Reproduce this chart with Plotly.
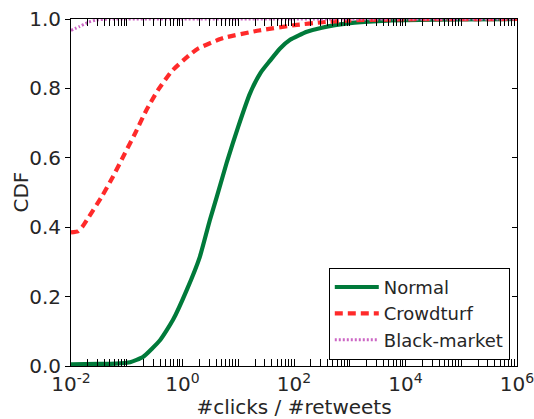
import plotly.graph_objects as go

# ratio of clicks to retweets (x) and cumulative fraction of accounts (y)
normal_x = [0.01, 0.0316, 0.0631, 0.115, 0.195, 0.398, 0.676, 1.20, 2.04, 3.09,
            4.17, 6.31, 10.0, 16.2, 25.1, 37.2, 56.2, 85.1, 170, 316, 1000, 3162,
            10000, 100000, 1000000]
normal_y = [0.005, 0.006, 0.007, 0.011, 0.026, 0.075, 0.133, 0.22, 0.314, 0.42,
            0.49, 0.59, 0.69, 0.785, 0.845, 0.88, 0.915, 0.94, 0.963, 0.975, 0.988,
            0.994, 0.997, 0.999, 1.0]

crowd_x = [0.01, 0.0132, 0.0158, 0.02, 0.0363, 0.0562, 0.0933, 0.141, 0.221, 0.363,
           0.646, 1.32, 1.91, 5.37, 21.9, 112, 295, 1000, 10000, 1000000]
crowd_y = [0.385, 0.388, 0.40, 0.425, 0.49, 0.545, 0.614, 0.67, 0.735, 0.795,
           0.85, 0.896, 0.915, 0.945, 0.966, 0.983, 0.99, 0.996, 0.999, 1.0]

black_x = [0.01, 0.0141, 0.02, 0.0282, 0.05, 1.0, 1000, 1000000]
black_y = [0.967, 0.978, 0.99, 0.997, 1.0, 1.0, 1.0, 1.0]

x_tickvals = [1e-2, 1e0, 1e2, 1e4, 1e6]
x_ticktext = ["10<sup>-2</sup>", "10<sup>0</sup>", "10<sup>2</sup>",
              "10<sup>4</sup>", "10<sup>6</sup>"]
y_tickvals = [0.0, 0.2, 0.4, 0.6, 0.8, 1.0]

# log minor ticks: 2..9 within each decade plus the odd decades
minor_vals = [k * 10.0 ** d for d in range(-2, 6) for k in range(2, 10)]
minor_vals += [10.0 ** d for d in (-1, 1, 3, 5)]

TEXT = "#262626"
FONT = "DejaVu Sans"

fig = go.Figure()
fig.add_trace(go.Scatter(x=normal_x, y=normal_y, mode="lines", name="Normal",
                         line=dict(color="#007a3a", width=4.2, shape="spline", smoothing=0.5)))
fig.add_trace(go.Scatter(x=crowd_x, y=crowd_y, mode="lines", name="Crowdturf",
                         line=dict(color="#ff2a2a", width=4.2, dash="8px,5px",
                                   shape="spline", smoothing=0.5)))
fig.add_trace(go.Scatter(x=black_x, y=black_y, mode="lines", name="Black-market",
                         line=dict(color="#cc66c4", width=3, dash="2px,2px",
                                   shape="spline", smoothing=0.5)))
# empty trace that carries the right-hand (inward) y ticks
fig.add_trace(go.Scatter(x=[None], y=[None], yaxis="y2", mode="lines",
                         showlegend=False, hoverinfo="skip"))

fig.update_layout(
    width=534, height=419,
    margin=dict(l=71, r=17, t=19, b=53),
    paper_bgcolor="white", plot_bgcolor="white",
    font=dict(family=FONT, size=19, color=TEXT),
    showlegend=True,
    legend=dict(x=0.578, y=0.283, xanchor="left", yanchor="top",
                bgcolor="white", bordercolor="black", borderwidth=1,
                font=dict(family=FONT, size=18, color=TEXT),
                itemwidth=44, tracegroupgap=0),
    yaxis2=dict(overlaying="y", side="right", range=[0, 1.0], automargin=False,
                tickvals=y_tickvals, showticklabels=False,
                ticks="inside", ticklen=5, tickwidth=1, tickcolor="black",
                showline=False, showgrid=False, zeroline=False),
    annotations=[dict(text="CDF", xref="paper", yref="paper", x=0, y=0.5,
                      xshift=-51, xanchor="center", yanchor="middle",
                      textangle=-90, showarrow=False,
                      font=dict(family=FONT, size=20, color=TEXT))],
)

fig.update_xaxes(
    type="log", range=[-2, 6], automargin=False,
    tickvals=x_tickvals, ticktext=x_ticktext, ticklabeloverflow="allow",
    ticks="inside", ticklen=7, tickwidth=1, tickcolor="black",
    minor=dict(tickvals=minor_vals, ticks="inside", ticklen=3.5, tickwidth=1,
               tickcolor="black", showgrid=False),
    showline=True, linecolor="black", linewidth=1, mirror="allticks",
    showgrid=False, zeroline=False,
    tickfont=dict(family=FONT, size=20, color=TEXT),
    title=dict(text="#clicks / #retweets", standoff=2,
               font=dict(family=FONT, size=20, color=TEXT)),
)
fig.layout.yaxis.update(
    range=[0, 1.0], automargin=False,
    tickvals=y_tickvals, tickformat=".1f",
    ticks="outside", ticklen=5, tickwidth=1, tickcolor="black",
    showline=True, linecolor="black", linewidth=1, mirror=True,
    showgrid=False, zeroline=False,
    tickfont=dict(family=FONT, size=20, color=TEXT),
)

fig.write_html("out.html")
